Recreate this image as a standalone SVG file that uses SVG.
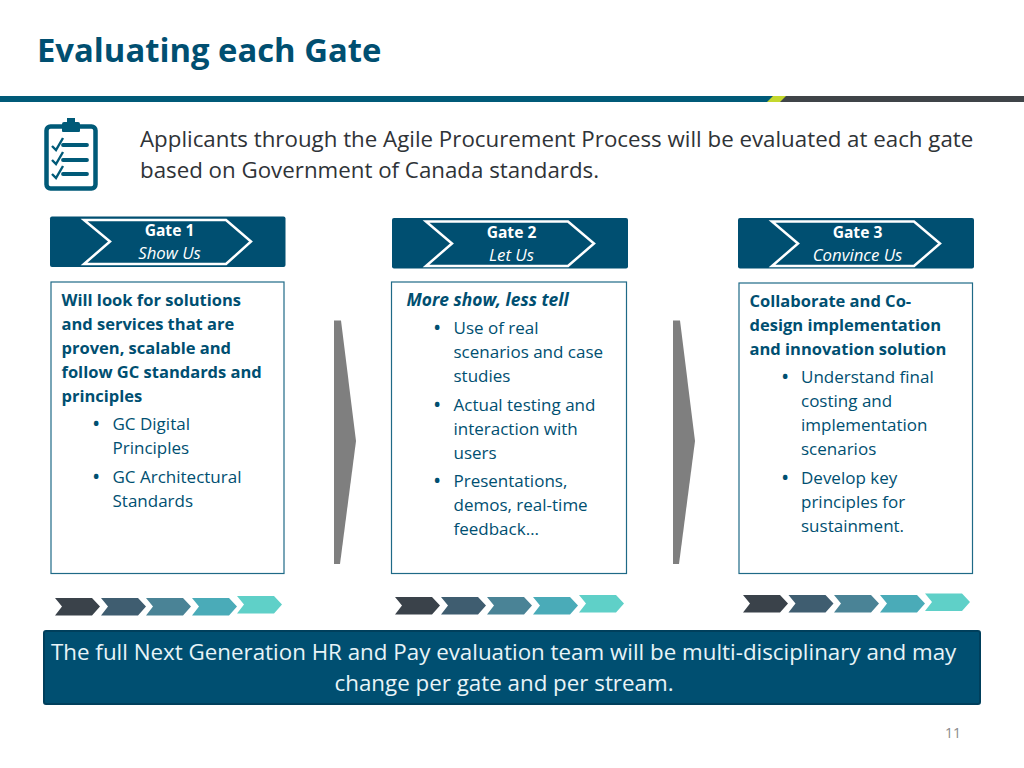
<svg xmlns="http://www.w3.org/2000/svg" width="1024" height="768" viewBox="0 0 1024 768">
<style>
text{font-family:"Open Sans","Noto Sans",sans-serif}
.hdr{fill:#004f71}
.hl{fill:none;stroke:#fff;stroke-width:2.5}
.gt{fill:#fff;font-size:15.600px;text-anchor:middle;font-weight:700}
.gi{fill:#fff;font-size:16.800px;text-anchor:middle;font-style:italic}
.box{fill:#fff;stroke:#1f6a87;stroke-width:1.2}
.b{fill:#004f71;font-size:16.500px;font-weight:700}
.bi{fill:#004f71;font-size:17.400px;font-weight:700;font-style:italic}
.t{fill:#004f71;font-size:17px}
.d{fill:#004f71;font-size:22px}
.lead{fill:#2f3337;font-size:22.300px}
.ban{fill:#e8f4f8;font-size:22.350px}
</style>
<rect width="1024" height="768" fill="#fff"/>
<g id="title"><text x="37" y="62" font-size="32.800" font-weight="700" fill="#004f71">Evaluating each Gate</text></g>
<g id="rule">
<rect x="0" y="96" width="1024" height="6" fill="#3f4448"/>
<rect x="0" y="96" width="772" height="6" fill="#005a78"/>
<polygon points="767,102 773,96 786,96 780,102" fill="#c4d82e"/>
</g>
<g id="clipboard">
<rect x="46.500" y="126.500" width="49" height="62" rx="4" fill="none" stroke="#005a78" stroke-width="4.500"/>
<path d="M62 131v-7a2 2 0 0 1 2-2h3v-4h8v4h3a2 2 0 0 1 2 2v7a1 1 0 0 1-1 1H63a1 1 0 0 1-1-1z" fill="#005a78"/>
<g fill="none" stroke="#005a78">
<path d="M63 145h24M63 160h24M63 174h24" stroke-width="3.800" stroke-linecap="round"/>
<path d="M52 146l4 4 7-12M52 160l4 4 7-12M52 174l4 4 7-12" stroke-width="2.400"/>
</g>
</g>
<g id="lead">
<text class="lead" x="140" y="147">Applicants through the Agile Procurement Process will be evaluated at each gate</text>
<text class="lead" x="140" y="178">based on Government of Canada standards.</text>
</g>
<g id="gate1">
<rect class="hdr" x="50" y="216.500" width="235.500" height="50.500" rx="2"/>
<polygon class="hl" points="84,220 226,220 251,241.500 226,264 84,264 110,241.500"/>
<text class="gt" x="169.500" y="236">Gate 1</text>
<text class="gi" x="169.500" y="258.500">Show Us</text>
</g>
<g id="gate2">
<rect class="hdr" x="392" y="218" width="236" height="50.500" rx="2"/>
<polygon class="hl" points="426,221.500 568,221.500 594,243.500 568,266 426,266 452,243.500"/>
<text class="gt" x="511.500" y="238">Gate 2</text>
<text class="gi" x="511.500" y="260.500">Let Us</text>
</g>
<g id="gate3">
<rect class="hdr" x="738" y="218" width="236" height="50.500" rx="2"/>
<polygon class="hl" points="772,221.500 914,221.500 940,243.500 914,266 772,266 798,243.500"/>
<text class="gt" x="857.500" y="238">Gate 3</text>
<text class="gi" x="857.500" y="260.500">Convince Us</text>
</g>
<g id="box1">
<rect class="box" x="51" y="282" width="233" height="291.500"/>
<text class="b" x="61.500" y="306">Will look for solutions</text>
<text class="b" x="61.500" y="330">and services that are</text>
<text class="b" x="61.500" y="354">proven, scalable and</text>
<text class="b" x="61.500" y="377.500">follow GC standards and</text>
<text class="b" x="61.500" y="401.500">principles</text>
<text class="d" x="92" y="431">•</text>
<text class="t" x="112.500" y="430">GC Digital</text>
<text class="t" x="112.500" y="454">Principles</text>
<text class="d" x="92" y="483.500">•</text>
<text class="t" x="112.500" y="482.500">GC Architectural</text>
<text class="t" x="112.500" y="506.500">Standards</text>
</g>
<g id="box2">
<rect class="box" x="391.500" y="282" width="235" height="291.500"/>
<text class="bi" x="406.500" y="306">More show, less tell</text>
<text class="d" x="433" y="335">•</text>
<text class="t" x="453.500" y="334">Use of real</text>
<text class="t" x="453.500" y="358">scenarios and case</text>
<text class="t" x="453.500" y="382">studies</text>
<text class="d" x="433" y="411.500">•</text>
<text class="t" x="453.500" y="410.500">Actual testing and</text>
<text class="t" x="453.500" y="434.500">interaction with</text>
<text class="t" x="453.500" y="458.500">users</text>
<text class="d" x="433" y="488">•</text>
<text class="t" x="453.500" y="487">Presentations,</text>
<text class="t" x="453.500" y="511">demos, real-time</text>
<text class="t" x="453.500" y="535">feedback…</text>
</g>
<g id="box3">
<rect class="box" x="739" y="283" width="233.500" height="290.500"/>
<text class="b" x="749.500" y="307">Collaborate and Co-</text>
<text class="b" x="749.500" y="331">design implementation</text>
<text class="b" x="749.500" y="355">and innovation solution</text>
<text class="d" x="781" y="384">•</text>
<text class="t" x="801" y="383">Understand final</text>
<text class="t" x="801" y="407">costing and</text>
<text class="t" x="801" y="431">implementation</text>
<text class="t" x="801" y="455">scenarios</text>
<text class="d" x="781" y="484.500">•</text>
<text class="t" x="801" y="483.500">Develop key</text>
<text class="t" x="801" y="507.500">principles for</text>
<text class="t" x="801" y="531.500">sustainment.</text>
</g>
<g id="connectors">
<polygon points="334,320.500 341,320.500 356,441 340,564 334,564" fill="#7f7f7f"/>
<polygon points="673,320.500 680,320.500 695,441 679,564 673,564" fill="#7f7f7f"/>
</g>
<defs>
<polygon id="chev" points="0,0 37,0 45,8.500 37,17.500 0,17.500 7,8.500"/>
</defs>
<g id="chevrons1">
<use href="#chev" x="55" y="598" fill="#3a424a"/>
<use href="#chev" x="101" y="598" fill="#3f5d70"/>
<use href="#chev" x="146" y="598" fill="#4a8396"/>
<use href="#chev" x="192" y="598" fill="#4aabb8"/>
<use href="#chev" x="237" y="596" fill="#5fd0c8"/>
</g>
<g id="chevrons2">
<use href="#chev" x="395" y="597" fill="#3a424a"/>
<use href="#chev" x="441" y="597" fill="#3f5d70"/>
<use href="#chev" x="487" y="597" fill="#4a8396"/>
<use href="#chev" x="533" y="597" fill="#4aabb8"/>
<use href="#chev" x="579" y="595" fill="#5fd0c8"/>
</g>
<g id="chevrons3">
<use href="#chev" x="743" y="595" fill="#3a424a"/>
<use href="#chev" x="788.500" y="595" fill="#3f5d70"/>
<use href="#chev" x="834" y="595" fill="#4a8396"/>
<use href="#chev" x="880" y="595" fill="#4aabb8"/>
<use href="#chev" x="925" y="593.500" fill="#5fd0c8"/>
</g>
<g id="banner">
<rect x="44" y="631" width="936" height="73" rx="2" fill="#004f71" stroke="#003f5c" stroke-width="2"/>
<text class="ban" x="51" y="660">The full Next Generation HR and Pay evaluation team will be multi-disciplinary and may</text>
<text class="ban" x="504" y="691" text-anchor="middle">change per gate and per stream.</text>
</g>
<g id="page"><text x="953" y="738" font-size="14" fill="#8a8a8a" text-anchor="middle">11</text></g>
</svg>
